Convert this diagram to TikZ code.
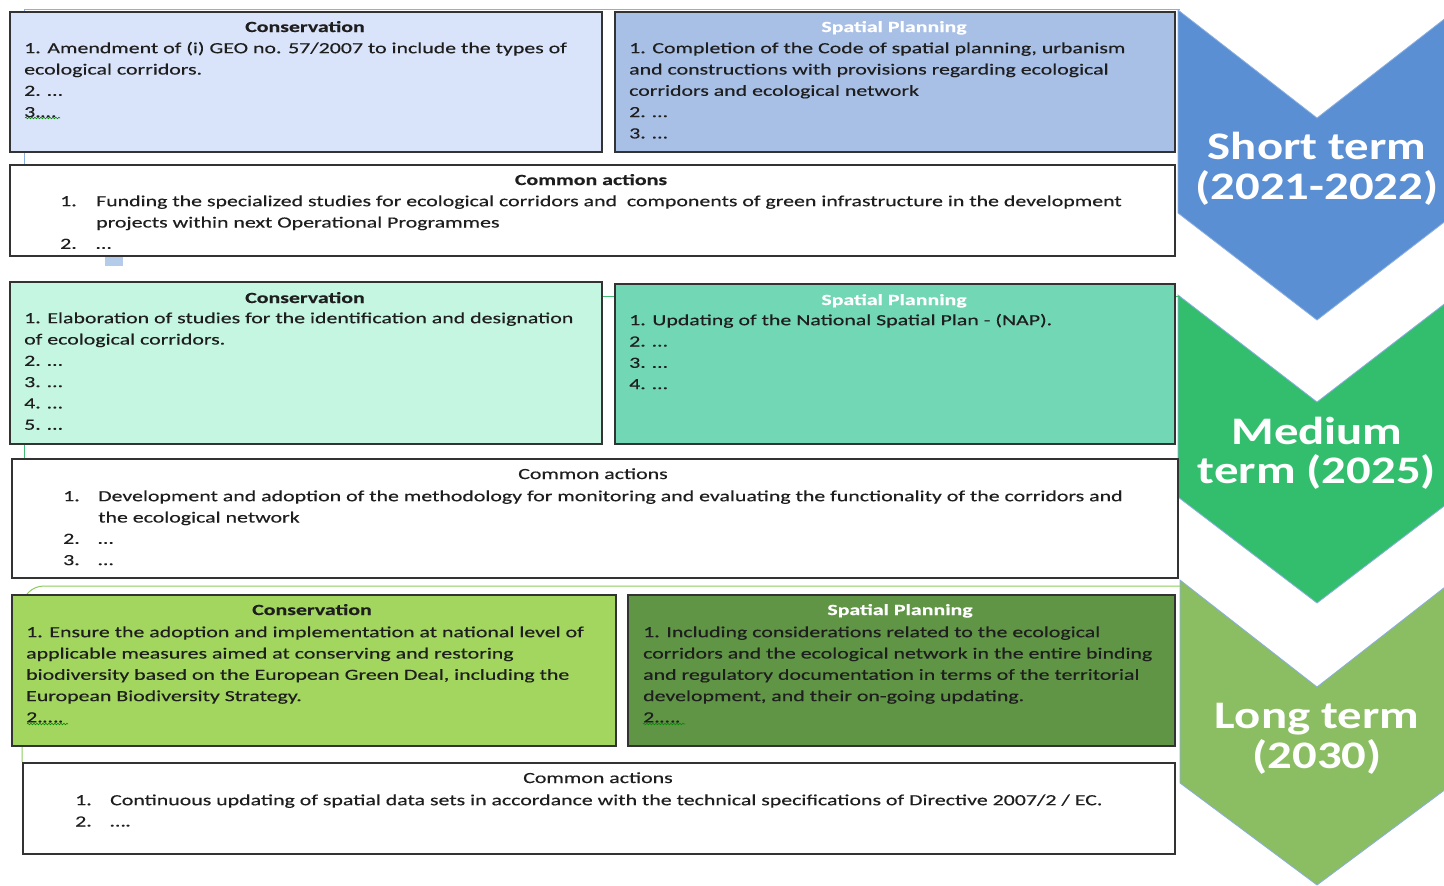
\documentclass[tikz,border=0pt]{standalone}
\usepackage{fontspec}
\setmainfont{Carlito}[FakeStretch=1.2]
\newfontfamily\bodyfont{Carlito}[FakeStretch=1.41, FakeBold=0.3]
\newfontfamily\chevfont{Carlito}[FakeStretch=1.25]
\usetikzlibrary{decorations.pathmorphing}
\definecolor{consA}{HTML}{D9E3F9}
\definecolor{spA}{HTML}{A8BFE6}
\definecolor{consB}{HTML}{C4F6E1}
\definecolor{spB}{HTML}{72D7B5}
\definecolor{consC}{HTML}{A2D65F}
\definecolor{spC}{HTML}{5F9545}
\definecolor{chevA}{HTML}{5B8FD4}
\definecolor{chevB}{HTML}{33BE6E}
\definecolor{chevC}{HTML}{8BBD63}
\definecolor{edge}{HTML}{333333}
\definecolor{ink}{HTML}{1E1E1E}
\definecolor{lineA}{HTML}{8AAFE0}
\definecolor{lineB}{HTML}{3CBF73}
\definecolor{lineC}{HTML}{8CCB5E}
\definecolor{tabA}{HTML}{B4CCEA}
\begin{document}
\begin{tikzpicture}[x=1pt,y=-1pt,
  panel/.style={draw=edge, line width=2pt, anchor=north west, inner sep=0pt},
  body/.style={anchor=north west, inner sep=0pt, align=left, text=ink, font=\bodyfont\fontsize{15.5}{21.3}\selectfont},
  head/.style={anchor=base, inner sep=0pt, text=ink, font=\bodyfont\fontsize{15.5}{21.3}\selectfont\bfseries},
  plainhead/.style={anchor=base, inner sep=0pt, text=ink, font=\bodyfont\fontsize{15.5}{21.3}\selectfont},
  sphead/.style={head, text=white},
  chevshape/.style={draw=lineA, line width=0.8pt},
  chevtext/.style={anchor=base, inner sep=0pt, text=white, font=\chevfont\fontsize{39}{40}\selectfont\bfseries},
  squig/.style={draw=green!55!black, line width=0.6pt, decorate, decoration={snake, amplitude=0.8pt, segment length=3pt}},
  bgline/.style={line width=1pt}]
\useasboundingbox (0,0) rectangle (1444,886);
\fill[white] (0,0) rectangle (1444,886);

% chevrons
\path[chevshape, fill=chevA] (1178,10) -- (1317,118) -- (1456,10) -- (1456,213) -- (1317,320) -- (1178,213) -- cycle;
\path[chevshape, fill=chevB] (1178,295) -- (1317,402) -- (1456,295) -- (1456,497) -- (1317,603) -- (1178,497) -- cycle;
\path[chevshape, fill=chevC] (1180,580) -- (1317,687) -- (1454,580) -- (1454,783) -- (1317,885) -- (1180,783) -- cycle;
\node[chevtext] (stA1) at (1317,159) {Short term};
\node[chevtext] (stA2) at (1317,199) {(2021-2022)};
\node[chevtext] (stB1) at (1317,444) {Medium};
\node[chevtext] (stB2) at (1317,483) {term (2025)};
\node[chevtext] (stC1) at (1317,728) {Long term};
\node[chevtext] (stC2) at (1317,768) {(2030)};

% background outlines of the rows
\draw[bgline, lineA] (24,164) -- (24,9.5) -- (1180,9.5);
\fill[tabA] (105,256) rectangle (123,266);
\draw[bgline, lineB] (24,458) -- (24,296) -- (1180,296);
\draw[bgline, lineC, rounded corners=22pt] (22,762) -- (22,586) -- (1180,586);

% ---------- row 1 ----------
\node[panel, fill=consA, minimum width=592pt, minimum height=140pt] (consA) at (9,11) {};
\node[head] (consAh) at (305,32) {Conservation};
\node[body] (consAb) at (24,38.1) {\strut 1. Amendment of (i) GEO no. 57/2007 to include the types of\\ecological corridors.\\2. …\\3.…};
\draw[squig] (25,118) -- (60,118);

\node[panel, fill=spA, minimum width=560pt, minimum height=140pt] (spA) at (614,11) {};
\node[sphead] (spAh) at (894,32) {Spatial Planning};
\node[body] (spAb) at (629,38.1) {\strut 1. Completion of the Code of spatial planning, urbanism\\and constructions with provisions regarding ecological\\corridors and ecological network\\2. …\\3. …};

\node[panel, fill=white, minimum width=1165pt, minimum height=91pt] (comA) at (9,164) {};
\node[head] (comAh) at (591,185) {Common actions};
\node[body] (comAb) at (60,191.1) {\strut\makebox[36pt][l]{1.}Funding the specialized studies for ecological corridors and\ \ components of green infrastructure in the development\\\hspace*{36pt}projects within next Operational Programmes\\\makebox[36pt][l]{2.}…};

% ---------- row 2 ----------
\node[panel, fill=consB, minimum width=592pt, minimum height=162pt] (consB) at (9,281) {};
\node[head] (consBh) at (305,303) {Conservation};
\node[body] (consBb) at (24,308.1) {\strut 1. Elaboration of studies for the identification and designation\\of ecological corridors.\\2. …\\3. …\\4. …\\5. …};

\node[panel, fill=spB, minimum width=560pt, minimum height=160pt] (spB) at (614,283) {};
\node[sphead] (spBh) at (894,305) {Spatial Planning};
\node[body] (spBb) at (629,310.1) {\strut 1. Updating of the National Spatial Plan - (NAP).\\2. …\\3. …\\4. …};

\node[panel, fill=white, minimum width=1166pt, minimum height=119pt] (comB) at (11,458) {};
\node[plainhead] (comBh) at (593,479) {Common actions};
\node[body] (comBb) at (63,486.1) {\strut\makebox[35pt][l]{1.}Development and adoption of the methodology for monitoring and evaluating the functionality of the corridors and\\\hspace*{35pt}the ecological network\\\makebox[35pt][l]{2.}…\\\makebox[35pt][l]{3.}…};

% ---------- row 3 ----------
\node[panel, fill=consC, minimum width=604pt, minimum height=151pt] (consC) at (11,594) {};
\node[head] (consCh) at (312,615) {Conservation};
\node[body] (consCb) at (26,622.1) {\strut 1. Ensure the adoption and implementation at national level of\\applicable measures aimed at conserving and restoring\\biodiversity based on the European Green Deal, including the\\European Biodiversity Strategy.\\2.….};
\draw[squig] (27,724) -- (68,724);

\node[panel, fill=spC, minimum width=547pt, minimum height=151pt] (spC) at (627,594) {};
\node[sphead] (spCh) at (900,615) {Spatial Planning};
\node[body] (spCb) at (643,622.1) {\strut 1. Including considerations related to the ecological\\corridors and the ecological network in the entire binding\\and regulatory documentation in terms of the territorial\\development, and their on-going updating.\\2.….};
\draw[squig] (643,724) -- (685,724);

\node[panel, fill=white, minimum width=1152pt, minimum height=91pt] (comC) at (22,762) {};
\node[plainhead] (comCh) at (598,783) {Common actions};
\node[body] (comCb) at (75,790.1) {\strut\makebox[35pt][l]{1.}Continuous updating of spatial data sets in accordance with the technical specifications of Directive 2007/2 / EC.\\\makebox[35pt][l]{2.}….};
\end{tikzpicture}
\end{document}
